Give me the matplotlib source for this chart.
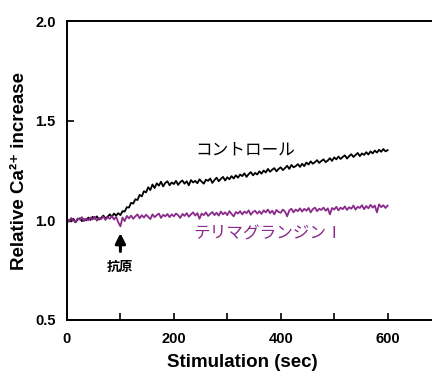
import matplotlib
matplotlib.use("Agg")
import matplotlib.pyplot as plt

plt.rcParams['font.family'] = ['Liberation Sans', 'DejaVu Sans', 'Noto Sans CJK JP']

# time axis (sec), one point every 4 s
time_sec = list(range(0, 604, 4))

# control trace
control = [
    0.988, 1.000, 0.994, 1.008, 0.990, 1.004, 1.010, 0.996, 1.006, 1.000,
    1.014, 1.002, 1.018, 1.008, 1.020, 1.004, 1.012, 1.024, 1.010, 1.018,
    1.030, 1.018, 1.034, 1.024, 1.036, 1.026, 1.046, 1.044, 1.066, 1.064,
    1.088, 1.084, 1.106, 1.102, 1.128, 1.120, 1.146, 1.140, 1.166, 1.152,
    1.180, 1.162, 1.186, 1.174, 1.194, 1.170, 1.188, 1.196, 1.176, 1.190,
    1.182, 1.198, 1.178, 1.192, 1.200, 1.184, 1.196, 1.176, 1.202, 1.190,
    1.198, 1.186, 1.206, 1.194, 1.184, 1.204, 1.198, 1.210, 1.188, 1.202,
    1.214, 1.196, 1.208, 1.218, 1.200, 1.216, 1.206, 1.222, 1.210, 1.226,
    1.214, 1.230, 1.222, 1.236, 1.218, 1.232, 1.242, 1.226, 1.238, 1.230,
    1.246, 1.234, 1.250, 1.240, 1.258, 1.244, 1.254, 1.262, 1.246, 1.258,
    1.266, 1.252, 1.262, 1.274, 1.258, 1.278, 1.266, 1.272, 1.282, 1.268,
    1.284, 1.272, 1.290, 1.280, 1.296, 1.284, 1.292, 1.302, 1.288, 1.298,
    1.306, 1.292, 1.300, 1.312, 1.298, 1.316, 1.306, 1.320, 1.308, 1.318,
    1.326, 1.310, 1.322, 1.332, 1.318, 1.328, 1.338, 1.322, 1.336, 1.328,
    1.342, 1.330, 1.346, 1.336, 1.350, 1.340, 1.354, 1.344, 1.358, 1.346,
    1.352,
]

# terimagrandin I trace
terima = [
    1.008, 0.994, 1.012, 1.000, 0.990, 1.010, 1.004, 1.016, 0.996, 1.008,
    1.000, 1.014, 1.004, 1.018, 0.998, 1.012, 1.006, 1.020, 1.002, 1.016,
    1.008, 1.022, 1.004, 1.018, 0.990, 0.970, 1.014, 0.996, 1.022, 1.010,
    1.024, 1.008, 1.020, 1.030, 1.010, 1.026, 1.014, 1.028, 1.018, 1.006,
    1.030, 1.016, 1.026, 1.034, 1.012, 1.028, 1.020, 1.032, 1.016, 1.030,
    1.020, 1.034, 1.026, 1.012, 1.032, 1.022, 1.036, 1.018, 1.030, 1.040,
    1.024, 1.036, 1.008, 1.034, 1.026, 1.040, 1.022, 1.032, 1.042, 1.026,
    1.038, 1.024, 1.044, 1.030, 1.040, 1.026, 1.046, 1.032, 1.020, 1.042,
    1.034, 1.046, 1.030, 1.044, 1.036, 1.050, 1.028, 1.042, 1.048, 1.034,
    1.046, 1.032, 1.050, 1.040, 1.054, 1.036, 1.048, 1.030, 1.052, 1.042,
    1.038, 1.054, 1.044, 1.020, 1.050, 1.058, 1.040, 1.054, 1.046, 1.060,
    1.044, 1.058, 1.048, 1.062, 1.040, 1.056, 1.064, 1.046, 1.058, 1.052,
    1.064, 1.048, 1.060, 1.030, 1.062, 1.054, 1.068, 1.050, 1.064, 1.056,
    1.070, 1.052, 1.066, 1.058, 1.074, 1.054, 1.068, 1.062, 1.076, 1.056,
    1.072, 1.060, 1.078, 1.064, 1.074, 1.040, 1.080, 1.066, 1.076, 1.062,
    1.074,
]

purple = '#8a2a8a'
jp = ['Noto Sans CJK JP', 'DejaVu Sans']

fig = plt.figure(figsize=(4.32, 3.76), dpi=100)
ax = fig.add_axes([0.155, 0.149, 0.866, 0.795])

ax.plot(time_sec, control, color='black', lw=1.3)
ax.plot(time_sec, terima, color=purple, lw=1.3)

ax.set_xlim(0, 700)
ax.set_ylim(0.5, 2.0)
ax.set_xticks(range(0, 800, 100))
ax.set_xticklabels(['0', '', '200', '', '400', '', '600', ''])
ax.set_yticks([0.5, 1.0, 1.5, 2.0])
ax.set_yticklabels(['0.5', '1.0', '1.5', '2.0'])
ax.tick_params(direction='in', length=5, width=1.2)
ax.tick_params(axis='x', pad=9)
ax.tick_params(axis='y', pad=8)
for lab in ax.get_xticklabels() + ax.get_yticklabels():
    lab.set_fontsize(10.5)
    lab.set_fontweight('bold')

ax.spines['right'].set_visible(False)
for s in ['left', 'bottom', 'top']:
    ax.spines[s].set_linewidth(1.4)

ax.set_xlabel('Stimulation (sec)', fontsize=13.5, fontweight='bold')
ax.set_ylabel('Relative Ca²⁺ increase', fontsize=13.5, fontweight='bold')
ax.xaxis.set_label_coords(0.468, -0.115)
ax.yaxis.set_label_coords(-0.105, 0.5)

ax.text(333, 1.35, 'コントロール', fontsize=12, ha='center', va='center',
        family=jp)
ax.text(376, 0.93, 'テリマグランジンⅠ', fontsize=12, ha='center', va='center',
        color=purple, family=jp)

ax.annotate('', xy=(100, 0.95), xytext=(100, 0.83),
            arrowprops=dict(arrowstyle='-|>', color='black', lw=2.2,
                            mutation_scale=15))
ax.text(100, 0.765, '抗原', fontsize=9.5, ha='center', va='center',
        fontweight='bold', family=jp)

fig.savefig('out.png', dpi=100)
